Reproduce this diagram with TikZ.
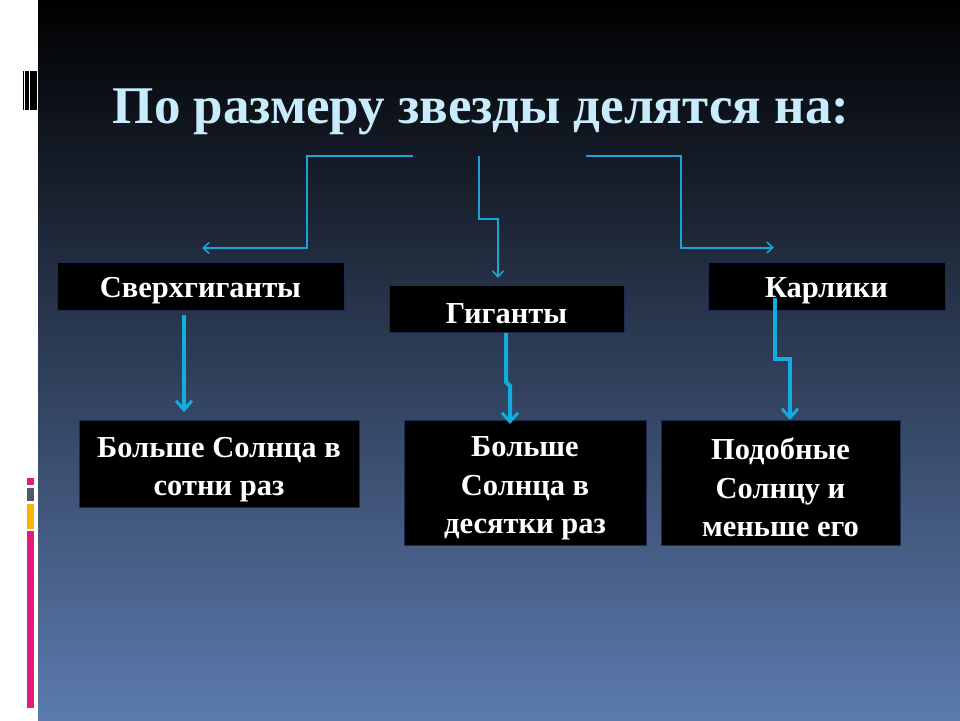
\documentclass[tikz,border=0pt]{standalone}
\usepackage{fontspec}
\setmainfont{Liberation Serif}
\usetikzlibrary{arrows.meta}
\definecolor{bgtop}{HTML}{000000}
\definecolor{bgmid}{HTML}{2C3950}
\definecolor{bgbot}{HTML}{5C7AAE}
\definecolor{titlecol}{HTML}{C8ECFC}
\definecolor{thinline}{HTML}{1BA3D6}
\definecolor{thickline}{HTML}{12ACE0}
\definecolor{boxedge}{HTML}{1A2A55}
\definecolor{pinkbar}{HTML}{E5197E}
\definecolor{graybar}{HTML}{505A66}
\definecolor{yellowbar}{HTML}{FBB40A}
\tikzset{
  box/.style={draw=boxedge, line width=1pt, fill=black, inner sep=0pt},
  boxtext/.style={text=white, align=center, inner sep=0pt,
    font=\fontsize{30.5}{38.5}\selectfont\bfseries},
  thinarrow/.style={draw=thinline, line width=2pt,
    -{Straight Barb[length=6pt,width=11pt,line width=1.6pt]}},
  thickarrow/.style={draw=thickline, line width=4pt,
    -{Straight Barb[length=9pt,width=16pt,line width=3pt]}},
}
\begin{document}
\begin{tikzpicture}[x=1pt,y=-1pt]
\useasboundingbox (0,0) rectangle (960,720);
% background
\fill[white] (0,0) rectangle (38,720);
\shade[top color=bgtop, middle color=bgmid, bottom color=bgbot] (38,0) rectangle (960,720);
% left decorations
\fill[black] (23,71) rectangle (24.2,110);
\fill[black] (25.3,71) rectangle (26.5,110);
\fill[black] (27.3,71) rectangle (29.3,110);
\fill[black] (30.3,71) rectangle (36.8,110);
\fill[pinkbar] (27,478) rectangle (34,485);
\fill[graybar] (27,488) rectangle (34,501);
\fill[yellowbar] (27,504) rectangle (34,529);
\fill[pinkbar] (27,531) rectangle (34,708);
% title
\node[anchor=base, text=titlecol, font=\fontsize{53}{60}\selectfont\bfseries, inner sep=0pt]
  (title) at (481,123) {По размеру звезды делятся на:};
% boxes
\node[box, minimum width=287pt, minimum height=48pt] (sg) at (200.5,286) {};
\node[box, minimum width=235pt, minimum height=47pt] (gi) at (506.5,308.5) {};
\node[box, minimum width=237pt, minimum height=48pt] (ka) at (826.5,286) {};
\node[box, minimum width=280pt, minimum height=87pt] (b1) at (219,463.5) {};
\node[box, minimum width=242pt, minimum height=125pt] (b2) at (525,482.5) {};
\node[box, minimum width=239pt, minimum height=125pt] (b3) at (780.5,482.5) {};
% box texts
\node[boxtext] (sgt) at ([yshift=-5pt]sg.center) {Сверхгиганты};
\node[boxtext] (git) at ([yshift=-5pt]gi.center) {Гиганты};
\node[boxtext] (kat) at ([yshift=-5pt]ka.center) {Карлики};
\node[boxtext] (b1t) at ([yshift=-6pt]b1.center) {Больше Солнца в\\сотни раз};
\node[boxtext] (b2t) at ([yshift=-6pt]b2.center) {Больше\\Солнца в\\десятки раз};
\node[boxtext] (b3t) at ([yshift=-5pt]b3.center) {Подобные\\Солнцу и\\меньше его};
% top connector coordinates
\coordinate (l0) at (413,156);
\coordinate (l1) at (202,248);
\coordinate (m0) at (479,156);
\coordinate (m1) at (498,278);
\coordinate (r0) at (586,156);
\coordinate (r1) at (774,247.5);
\draw[thinarrow] (l0) -- (307,156) -- (307,248) -- (l1);
\draw[thinarrow] (m0) -- (479,219) -- (498,219) -- (m1);
\draw[thinarrow] (r0) -- (681,156) -- (681,247.5) -- (r1);
% lower arrows
\coordinate (s1) at (184,315);
\coordinate (e1) at (184,412);
\coordinate (s2) at (506,333);
\coordinate (e2) at (510,424);
\coordinate (s3) at (775,298);
\coordinate (e3) at (790,420);
\draw[thickarrow] (s1) -- (e1);
\draw[thickarrow] (s2) -- (506,382) -- (510,386) -- (e2);
\draw[thickarrow] (s3) -- (775,359) -- (790,359) -- (e3);
\end{tikzpicture}
\end{document}
